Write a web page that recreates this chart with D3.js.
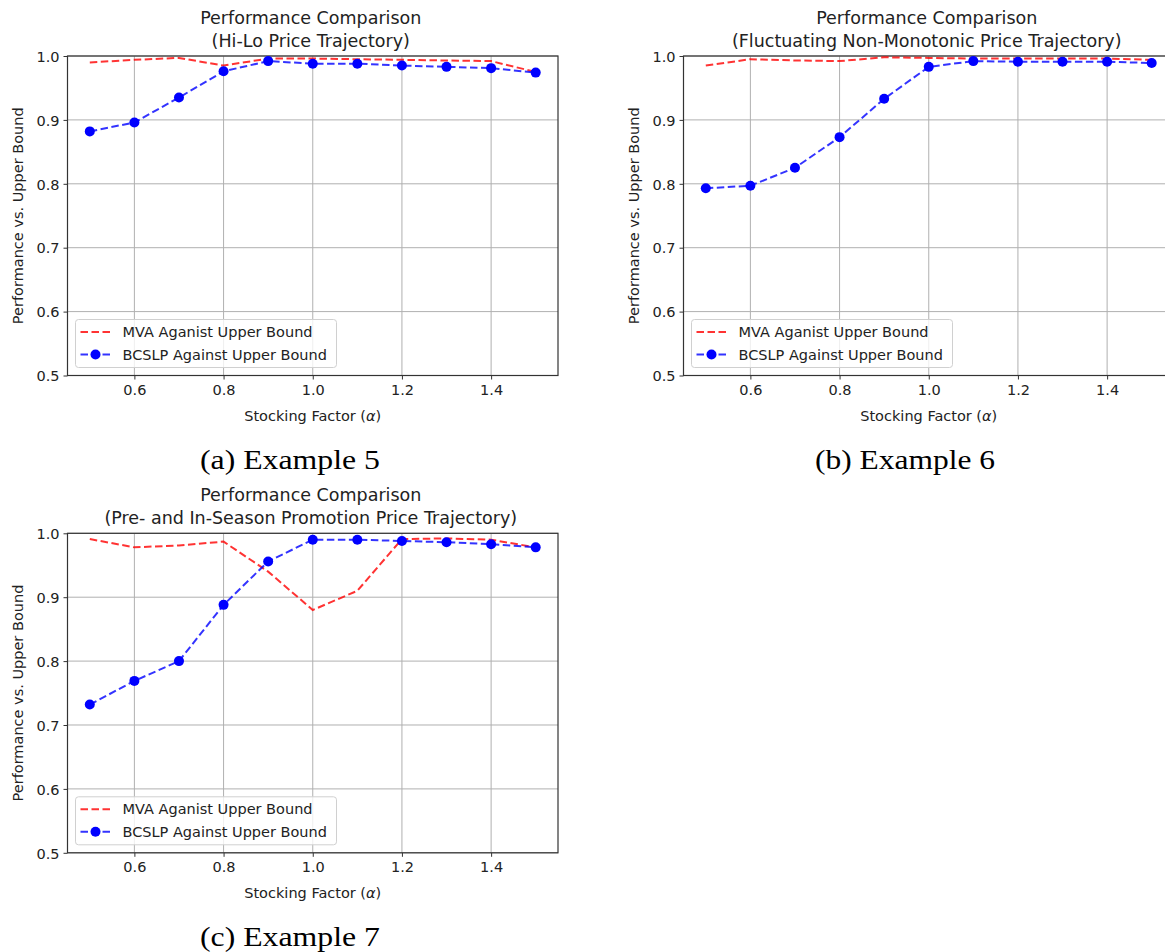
<!DOCTYPE html>
<html>
<head>
<meta charset="utf-8">
<script src="https://cdn.jsdelivr.net/npm/d3@7"></script>
<style>
  body { margin: 0; background: #fff; }
  svg { display: block; }
  .tick text { font-family: "DejaVu Sans", sans-serif; font-size: 14.5px; fill: #222; }
</style>
</head>
<body>
<svg id="chart"></svg>
<script>
// data
var stockingFactor = [0.5, 0.6, 0.7, 0.8, 0.9, 1.0, 1.1, 1.2, 1.3, 1.4, 1.5];

var mvaHiLo   = [0.990, 0.994, 0.997, 0.985, 0.996, 0.996, 0.995, 0.994, 0.993, 0.992, 0.975];
var bcslpHiLo = [0.882, 0.896, 0.935, 0.976, 0.992, 0.988, 0.988, 0.985, 0.983, 0.981, 0.974];

var mvaFluct   = [0.985, 0.995, 0.993, 0.992, 0.998, 0.997, 0.996, 0.996, 0.996, 0.996, 0.994];
var bcslpFluct = [0.793, 0.797, 0.825, 0.873, 0.933, 0.983, 0.992, 0.991, 0.991, 0.991, 0.989];

var mvaPromo   = [0.991, 0.978, 0.981, 0.987, 0.940, 0.880, 0.910, 0.991, 0.992, 0.990, 0.978];
var bcslpPromo = [0.732, 0.769, 0.800, 0.888, 0.956, 0.990, 0.990, 0.988, 0.986, 0.983, 0.978];

var xTicks = [0.6, 0.8, 1.0, 1.2, 1.4];
var yTicks = [0.5, 0.6, 0.7, 0.8, 0.9, 1.0];
var seriesNames = ["MVA Aganist Upper Bound", "BCSLP Against Upper Bound"];
var titleLine1 = "Performance Comparison";
var subTitles = ["(Hi-Lo Price Trajectory)",
                 "(Fluctuating Non-Monotonic Price Trajectory)",
                 "(Pre- and In-Season Promotion Price Trajectory)"];
var captions = ["(a) Example 5", "(b) Example 6", "(c) Example 7"];

// basic settings
var width = 1165, height = 952;
var svg = d3.select("#chart").attr("width", width).attr("height", height);
svg.append("rect").attr("width", width).attr("height", height).attr("fill", "#fff");

var plotW = 490.5, plotH = 319.5;
var font = "'DejaVu Sans', sans-serif";

var panels = [
  { left: 67.5,  top: 56,    mva: mvaHiLo,  bcslp: bcslpHiLo,  sub: subTitles[0], cap: captions[0], capX: 290 },
  { left: 683.5, top: 56,    mva: mvaFluct, bcslp: bcslpFluct, sub: subTitles[1], cap: captions[1], capX: 905 },
  { left: 67.5,  top: 533.3, mva: mvaPromo, bcslp: bcslpPromo, sub: subTitles[2], cap: captions[2], capX: 290 }
];

panels.forEach(function(p) {
  var g = svg.append("g").attr("transform", "translate(" + p.left + "," + p.top + ")");

  var x = d3.scaleLinear().domain([0.45, 1.55]).range([0, plotW]);
  var y = d3.scaleLinear().domain([0.5, 1.0]).range([plotH, 0]);

  // grid
  g.append("g").selectAll("line").data(xTicks).enter().append("line")
    .attr("x1", function(d) { return x(d); }).attr("x2", function(d) { return x(d); })
    .attr("y1", 0).attr("y2", plotH)
    .attr("stroke", "#b0b0b0").attr("stroke-width", 1);
  g.append("g").selectAll("line").data(yTicks).enter().append("line")
    .attr("x1", 0).attr("x2", plotW)
    .attr("y1", function(d) { return y(d); }).attr("y2", function(d) { return y(d); })
    .attr("stroke", "#b0b0b0").attr("stroke-width", 1);

  // axes
  var xAxis = g.append("g").attr("transform", "translate(0," + plotH + ")")
    .call(d3.axisBottom(x).tickValues(xTicks).tickFormat(d3.format(".1f")).tickSizeOuter(0).tickSize(4).tickPadding(5));
  var yAxis = g.append("g")
    .call(d3.axisLeft(y).tickValues(yTicks).tickFormat(d3.format(".1f")).tickSizeOuter(0).tickSize(4).tickPadding(4));
  xAxis.select(".domain").remove();
  yAxis.select(".domain").remove();
  g.selectAll(".tick line").attr("stroke", "#333");
  yAxis.selectAll(".tick text").attr("dy", "0.36em");

  // frame
  g.append("rect").attr("width", plotW).attr("height", plotH)
    .attr("fill", "none").attr("stroke", "#333").attr("stroke-width", 1.2);

  // lines
  var line = d3.line()
    .x(function(d, i) { return x(stockingFactor[i]); })
    .y(function(d) { return y(d); });

  g.append("path").datum(p.mva)
    .attr("d", line).attr("fill", "none")
    .attr("stroke", "red").attr("stroke-opacity", 0.8)
    .attr("stroke-width", 2).attr("stroke-dasharray", "7.5,3.5");

  g.append("path").datum(p.bcslp)
    .attr("d", line).attr("fill", "none")
    .attr("stroke", "blue").attr("stroke-opacity", 0.8)
    .attr("stroke-width", 2).attr("stroke-dasharray", "7.5,3.5");

  g.append("g").selectAll("circle").data(p.bcslp).enter().append("circle")
    .attr("cx", function(d, i) { return x(stockingFactor[i]); })
    .attr("cy", function(d) { return y(d); })
    .attr("r", 5).attr("fill", "blue");

  // titles
  g.append("text").attr("x", plotW / 2 - 2).attr("y", -32)
    .attr("text-anchor", "middle").style("font-family", font).style("font-size", "17.5px").attr("fill", "#222")
    .text(titleLine1);
  g.append("text").attr("x", plotW / 2 - 2).attr("y", -9.5)
    .attr("text-anchor", "middle").style("font-family", font).style("font-size", "17.5px").attr("fill", "#222")
    .text(p.sub);

  // axis labels
  var xl = g.append("text").attr("x", plotW / 2).attr("y", plotH + 45.5)
    .attr("text-anchor", "middle").style("font-family", font).style("font-size", "14.5px").attr("fill", "#222");
  xl.append("tspan").text("Stocking Factor (");
  xl.append("tspan").style("font-style", "italic").text("\u03b1");
  xl.append("tspan").text(")");
  g.append("text")
    .attr("transform", "translate(-45," + (plotH / 2) + ") rotate(-90)")
    .attr("text-anchor", "middle").style("font-family", font).style("font-size", "14.5px").attr("fill", "#222")
    .text("Performance vs. Upper Bound");

  // legend
  var legend = g.append("g").attr("transform", "translate(8," + (plotH - 56) + ")");
  legend.append("rect").attr("width", 261).attr("height", 48).attr("rx", 3)
    .attr("fill", "#fff").attr("fill-opacity", 0.8).attr("stroke", "#d0d0d0");
  legend.append("line").attr("x1", 5).attr("x2", 35).attr("y1", 12.5).attr("y2", 12.5)
    .attr("stroke", "red").attr("stroke-opacity", 0.8).attr("stroke-width", 2).attr("stroke-dasharray", "7.5,3.5");
  legend.append("line").attr("x1", 5).attr("x2", 35).attr("y1", 35).attr("y2", 35)
    .attr("stroke", "blue").attr("stroke-opacity", 0.8).attr("stroke-width", 2).attr("stroke-dasharray", "7.5,3.5");
  legend.append("circle").attr("cx", 20).attr("cy", 35).attr("r", 5).attr("fill", "blue");
  legend.selectAll("text.lg").data(seriesNames).enter().append("text")
    .attr("class", "lg")
    .attr("x", 47).attr("y", function(d, i) { return 17.5 + i * 22.5; })
    .style("font-family", font).style("font-size", "14.5px").attr("fill", "#222")
    .text(function(d) { return d; });

  // caption below the panel
  svg.append("text").attr("x", p.capX).attr("y", p.top + plotH + 93)
    .attr("text-anchor", "middle")
    .attr("textLength", 180).attr("lengthAdjust", "spacingAndGlyphs")
    .style("font-family", "'Liberation Serif', serif").style("font-size", "27px").attr("fill", "#000")
    .text(p.cap);
});
</script>
</body>
</html>
